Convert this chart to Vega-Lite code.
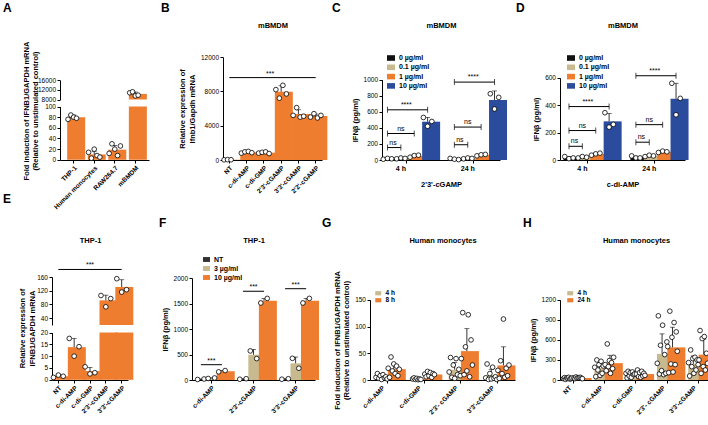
{
"$schema":"https://vega.github.io/schema/vega-lite/v6.json",
"background":"white",
"padding":{"left":3,"top":2,"right":0,"bottom":0},
"config":{
 "font":"Liberation Sans",
 "numberFormat":"d",
 "view":{"stroke":null},
 "axis":{"grid":false,"labelOverlap":false,"domainColor":"#000","domainWidth":1,"tickColor":"#000","tickWidth":1,"tickSize":3,"labelColor":"#000","labelFontSize":6.5,"labelPadding":1.5,"labelFont":"Liberation Sans","titleFont":"Liberation Sans","titleColor":"#000","titleFontSize":7.5,"titleFontWeight":"bold","titlePadding":4},
 "axisQuantitative":{"labelOverlap":false,"labelFlush":false},
 "legend":{"labelFont":"Liberation Sans","labelFontSize":7,"labelFontWeight":"bold","labelColor":"#000","symbolType":"M-1,-0.7H1V0.7H-1Z","symbolStrokeWidth":0,"symbolSize":64,"rowPadding":2.3,"labelOffset":4,"padding":0},
 "title":{"font":"Liberation Sans","fontSize":12,"fontWeight":"bold","anchor":"start","frame":"group","color":"#000","offset":6}
},
"datasets":{
"A_bar":[{"cat":"THP-1","v":80,"hi":84},{"cat":"Human monocytes","v":10,"hi":16},{"cat":"RAW264.7","v":19,"hi":27},{"cat":"mBMDM","v":10300,"hi":11100}],
"A_pts":[{"cat":"THP-1","rep":1,"v":76},{"cat":"THP-1","rep":2,"v":84},{"cat":"THP-1","rep":3,"v":80},{"cat":"THP-1","rep":4,"v":78},
{"cat":"Human monocytes","rep":1,"v":14},{"cat":"Human monocytes","rep":2,"v":3},{"cat":"Human monocytes","rep":3,"v":20},{"cat":"Human monocytes","rep":4,"v":8},{"cat":"Human monocytes","rep":5,"v":5},
{"cat":"RAW264.7","rep":1,"v":12},{"cat":"RAW264.7","rep":2,"v":30},{"cat":"RAW264.7","rep":3,"v":20},{"cat":"RAW264.7","rep":4,"v":8},{"cat":"RAW264.7","rep":5,"v":26},
{"cat":"mBMDM","rep":1,"v":10800},{"cat":"mBMDM","rep":2,"v":11200},{"cat":"mBMDM","rep":3,"v":9500},{"cat":"mBMDM","rep":4,"v":9800}],
"B_bar":[{"cat":"NT","v":30,"hi":45},{"cat":"c-di-AMP","v":900,"hi":1000},{"cat":"c-di-GMP","v":850,"hi":950},{"cat":"2'3'-cGAMP","v":7950,"hi":8650},{"cat":"3'3'-cGAMP","v":5350,"hi":5850},{"cat":"2'2'-cGAMP","v":5125,"hi":5350}],
"B_pts":[{"cat":"NT","rep":1,"v":20},{"cat":"NT","rep":2,"v":40},{"cat":"NT","rep":3,"v":30},
{"cat":"c-di-AMP","rep":1,"v":800},{"cat":"c-di-AMP","rep":2,"v":950},{"cat":"c-di-AMP","rep":3,"v":1000},{"cat":"c-di-AMP","rep":4,"v":850},
{"cat":"c-di-GMP","rep":1,"v":800},{"cat":"c-di-GMP","rep":2,"v":900},{"cat":"c-di-GMP","rep":3,"v":950},{"cat":"c-di-GMP","rep":4,"v":750},
{"cat":"2'3'-cGAMP","rep":1,"v":8200},{"cat":"2'3'-cGAMP","rep":2,"v":7200},{"cat":"2'3'-cGAMP","rep":3,"v":8700},{"cat":"2'3'-cGAMP","rep":4,"v":7700},
{"cat":"3'3'-cGAMP","rep":1,"v":5200},{"cat":"3'3'-cGAMP","rep":2,"v":6100},{"cat":"3'3'-cGAMP","rep":3,"v":5000},{"cat":"3'3'-cGAMP","rep":4,"v":5100},
{"cat":"2'2'-cGAMP","rep":1,"v":5000},{"cat":"2'2'-cGAMP","rep":2,"v":5400},{"cat":"2'2'-cGAMP","rep":3,"v":4900},{"cat":"2'2'-cGAMP","rep":4,"v":5200}],
"B_br":[{"from":"NT","to":"2'2'-cGAMP","y":9600,"at":"c-di-GMP","lab":"***"}],
"C_bar":[{"key":"4 h|0","dose":"0 µg/ml","v":15,"hi":20},{"key":"4 h|0.1","dose":"0.1 µg/ml","v":20,"hi":25},{"key":"4 h|1","dose":"1 µg/ml","v":50,"hi":65},{"key":"4 h|10","dose":"10 µg/ml","v":477,"hi":530},
{"key":"24 h|0","dose":"0 µg/ml","v":12,"hi":20},{"key":"24 h|0.1","dose":"0.1 µg/ml","v":20,"hi":25},{"key":"24 h|1","dose":"1 µg/ml","v":62,"hi":72},{"key":"24 h|10","dose":"10 µg/ml","v":747,"hi":860}],
"C_pts":[{"key":"4 h|0","rep":1,"v":10},{"key":"4 h|0","rep":2,"v":20},{"key":"4 h|0","rep":3,"v":15},
{"key":"4 h|0.1","rep":1,"v":15},{"key":"4 h|0.1","rep":2,"v":25},{"key":"4 h|0.1","rep":3,"v":20},
{"key":"4 h|1","rep":1,"v":35},{"key":"4 h|1","rep":2,"v":55},{"key":"4 h|1","rep":3,"v":60},
{"key":"4 h|10","rep":1,"v":530},{"key":"4 h|10","rep":2,"v":420},{"key":"4 h|10","rep":3,"v":480},
{"key":"24 h|0","rep":1,"v":20},{"key":"24 h|0","rep":2,"v":10},{"key":"24 h|0","rep":3,"v":5},
{"key":"24 h|0.1","rep":1,"v":15},{"key":"24 h|0.1","rep":2,"v":25},{"key":"24 h|0.1","rep":3,"v":20},
{"key":"24 h|1","rep":1,"v":52},{"key":"24 h|1","rep":2,"v":65},{"key":"24 h|1","rep":3,"v":70},
{"key":"24 h|10","rep":1,"v":825},{"key":"24 h|10","rep":2,"v":635},{"key":"24 h|10","rep":3,"v":780}],
"C_br":[{"from":"4 h|0","to":"4 h|0.1","y":155},{"from":"4 h|0","to":"4 h|1","y":330},{"from":"4 h|0","to":"4 h|10","y":625},{"from":"24 h|0","to":"24 h|0.1","y":190},{"from":"24 h|0","to":"24 h|1","y":410},{"from":"24 h|0","to":"24 h|10","y":970}],
"C_lc":[{"at":"4 h|0.1","y":330,"lab":"ns"},{"at":"24 h|0.1","y":410,"lab":"ns"}],
"C_le":[{"at":"4 h|0","y":155,"lab":"ns"},{"at":"4 h|0.1","y":625,"lab":"****"},{"at":"24 h|0","y":190,"lab":"ns"},{"at":"24 h|0.1","y":970,"lab":"****"}],
"D_bar":[{"key":"4 h|0","dose":"0 µg/ml","v":17,"hi":25},{"key":"4 h|0.1","dose":"0.1 µg/ml","v":20,"hi":25},{"key":"4 h|1","dose":"1 µg/ml","v":43,"hi":50},{"key":"4 h|10","dose":"10 µg/ml","v":282,"hi":340},
{"key":"24 h|0","dose":"0 µg/ml","v":20,"hi":28},{"key":"24 h|0.1","dose":"0.1 µg/ml","v":30,"hi":35},{"key":"24 h|1","dose":"1 µg/ml","v":60,"hi":65},{"key":"24 h|10","dose":"10 µg/ml","v":447,"hi":560}],
"D_pts":[{"key":"4 h|0","rep":1,"v":25},{"key":"4 h|0","rep":2,"v":10},{"key":"4 h|0","rep":3,"v":15},
{"key":"4 h|0.1","rep":1,"v":15},{"key":"4 h|0.1","rep":2,"v":25},{"key":"4 h|0.1","rep":3,"v":20},
{"key":"4 h|1","rep":1,"v":35},{"key":"4 h|1","rep":2,"v":45},{"key":"4 h|1","rep":3,"v":50},
{"key":"4 h|10","rep":1,"v":345},{"key":"4 h|10","rep":2,"v":240},{"key":"4 h|10","rep":3,"v":260},
{"key":"24 h|0","rep":1,"v":30},{"key":"24 h|0","rep":2,"v":15},{"key":"24 h|0","rep":3,"v":15},
{"key":"24 h|0.1","rep":1,"v":25},{"key":"24 h|0.1","rep":2,"v":35},{"key":"24 h|0.1","rep":3,"v":30},
{"key":"24 h|1","rep":1,"v":55},{"key":"24 h|1","rep":2,"v":65},{"key":"24 h|1","rep":3,"v":60},
{"key":"24 h|10","rep":1,"v":560},{"key":"24 h|10","rep":2,"v":330},{"key":"24 h|10","rep":3,"v":450}],
"D_br":[{"from":"4 h|0","to":"4 h|0.1","y":100},{"from":"4 h|0","to":"4 h|1","y":215},{"from":"4 h|0","to":"4 h|10","y":390},{"from":"24 h|0","to":"24 h|0.1","y":130},{"from":"24 h|0","to":"24 h|1","y":258},{"from":"24 h|0","to":"24 h|10","y":615}],
"D_lc":[{"at":"4 h|0.1","y":215,"lab":"ns"},{"at":"24 h|0.1","y":258,"lab":"ns"}],
"D_le":[{"at":"4 h|0","y":100,"lab":"ns"},{"at":"4 h|0.1","y":390,"lab":"****"},{"at":"24 h|0","y":130,"lab":"ns"},{"at":"24 h|0.1","y":615,"lab":"****"}],
"E_bar":[{"cat":"NT","v":1.5,"hi":2},{"cat":"c-di-AMP","v":13.8,"hi":17.5},{"cat":"c-di-GMP","v":3.7,"hi":5.2},{"cat":"2'3'-cGAMP","v":92,"hi":107},{"cat":"3'3'-cGAMP","v":131,"hi":152}],
"E_pts":[{"cat":"NT","rep":1,"v":1},{"cat":"NT","rep":2,"v":2},{"cat":"NT","rep":3,"v":1.5},
{"cat":"c-di-AMP","rep":1,"v":17.5},{"cat":"c-di-AMP","rep":2,"v":10},{"cat":"c-di-AMP","rep":3,"v":14},
{"cat":"c-di-GMP","rep":1,"v":5.5},{"cat":"c-di-GMP","rep":2,"v":2.5},{"cat":"c-di-GMP","rep":3,"v":3},
{"cat":"2'3'-cGAMP","rep":1,"v":106},{"cat":"2'3'-cGAMP","rep":2,"v":73},{"cat":"2'3'-cGAMP","rep":3,"v":97},
{"cat":"3'3'-cGAMP","rep":1,"v":155},{"cat":"3'3'-cGAMP","rep":2,"v":116},{"cat":"3'3'-cGAMP","rep":3,"v":123}],
"E_br":[{"from":"NT","to":"3'3'-cGAMP","y":182,"at":"c-di-GMP","lab":"***"}],
"F_bar":[{"key":"c-di-AMP|NT","ser":"NT","v":15,"hi":20},{"key":"c-di-AMP|3","ser":"3 µg/ml","v":35,"hi":42},{"key":"c-di-AMP|10","ser":"10 µg/ml","v":172,"hi":185},
{"key":"2'3'-cGAMP|NT","ser":"NT","v":20,"hi":25},{"key":"2'3'-cGAMP|3","ser":"3 µg/ml","v":495,"hi":600},{"key":"2'3'-cGAMP|10","ser":"10 µg/ml","v":1555,"hi":1600},
{"key":"3'3'-cGAMP|NT","ser":"NT","v":20,"hi":25},{"key":"3'3'-cGAMP|3","ser":"3 µg/ml","v":327,"hi":450},{"key":"3'3'-cGAMP|10","ser":"10 µg/ml","v":1555,"hi":1600}],
"F_pts":[{"key":"c-di-AMP|NT","rep":1,"v":10},{"key":"c-di-AMP|NT","rep":2,"v":20},{"key":"c-di-AMP|3","rep":1,"v":30},{"key":"c-di-AMP|3","rep":2,"v":40},{"key":"c-di-AMP|10","rep":1,"v":160},{"key":"c-di-AMP|10","rep":2,"v":185},
{"key":"2'3'-cGAMP|NT","rep":1,"v":15},{"key":"2'3'-cGAMP|NT","rep":2,"v":25},{"key":"2'3'-cGAMP|3","rep":1,"v":570},{"key":"2'3'-cGAMP|3","rep":2,"v":420},{"key":"2'3'-cGAMP|10","rep":1,"v":1510},{"key":"2'3'-cGAMP|10","rep":2,"v":1600},
{"key":"3'3'-cGAMP|NT","rep":1,"v":15},{"key":"3'3'-cGAMP|NT","rep":2,"v":25},{"key":"3'3'-cGAMP|3","rep":1,"v":425},{"key":"3'3'-cGAMP|3","rep":2,"v":230},{"key":"3'3'-cGAMP|10","rep":1,"v":1510},{"key":"3'3'-cGAMP|10","rep":2,"v":1600}],
"F_br":[{"from":"c-di-AMP|NT","to":"c-di-AMP|10","y":300,"at":"c-di-AMP|3","lab":"***"},{"from":"2'3'-cGAMP|NT","to":"2'3'-cGAMP|10","y":1740,"at":"2'3'-cGAMP|3","lab":"***"},{"from":"3'3'-cGAMP|NT","to":"3'3'-cGAMP|10","y":1790,"at":"3'3'-cGAMP|3","lab":"***"}],
"G_bar":[{"key":"c-di-AMP|4 h","ser":"4 h","v":5.7,"hi":9},{"key":"c-di-AMP|8 h","ser":"8 h","v":20.3,"hi":30},{"key":"c-di-GMP|4 h","ser":"4 h","v":1.8,"hi":3},{"key":"c-di-GMP|8 h","ser":"8 h","v":10.3,"hi":13},
{"key":"2'3'- cGAMP|4 h","ser":"4 h","v":19,"hi":33},{"key":"2'3'- cGAMP|8 h","ser":"8 h","v":54,"hi":96},{"key":"3'3'-cGAMP|4 h","ser":"4 h","v":9.2,"hi":20},{"key":"3'3'-cGAMP|8 h","ser":"8 h","v":27.3,"hi":62}],
"G_pts":[
{"key":"c-di-AMP|4 h","rep":1,"v":5},{"key":"c-di-AMP|4 h","rep":2,"v":12},{"key":"c-di-AMP|4 h","rep":3,"v":3},{"key":"c-di-AMP|4 h","rep":4,"v":8},{"key":"c-di-AMP|4 h","rep":5,"v":1},{"key":"c-di-AMP|4 h","rep":6,"v":10},{"key":"c-di-AMP|4 h","rep":7,"v":4},{"key":"c-di-AMP|4 h","rep":8,"v":6},{"key":"c-di-AMP|4 h","rep":9,"v":2},
{"key":"c-di-AMP|8 h","rep":1,"v":22},{"key":"c-di-AMP|8 h","rep":2,"v":5},{"key":"c-di-AMP|8 h","rep":3,"v":43},{"key":"c-di-AMP|8 h","rep":4,"v":17},{"key":"c-di-AMP|8 h","rep":5,"v":30},{"key":"c-di-AMP|8 h","rep":6,"v":12},{"key":"c-di-AMP|8 h","rep":7,"v":26},{"key":"c-di-AMP|8 h","rep":8,"v":8},{"key":"c-di-AMP|8 h","rep":9,"v":20},
{"key":"c-di-GMP|4 h","rep":1,"v":2},{"key":"c-di-GMP|4 h","rep":2,"v":4},{"key":"c-di-GMP|4 h","rep":3,"v":1},{"key":"c-di-GMP|4 h","rep":4,"v":3},{"key":"c-di-GMP|4 h","rep":5,"v":0.5},{"key":"c-di-GMP|4 h","rep":6,"v":2},{"key":"c-di-GMP|4 h","rep":7,"v":1},
{"key":"c-di-GMP|8 h","rep":1,"v":11},{"key":"c-di-GMP|8 h","rep":2,"v":6},{"key":"c-di-GMP|8 h","rep":3,"v":16},{"key":"c-di-GMP|8 h","rep":4,"v":8},{"key":"c-di-GMP|8 h","rep":5,"v":14},{"key":"c-di-GMP|8 h","rep":6,"v":5},{"key":"c-di-GMP|8 h","rep":7,"v":12},{"key":"c-di-GMP|8 h","rep":8,"v":10},
{"key":"2'3'- cGAMP|4 h","rep":1,"v":15},{"key":"2'3'- cGAMP|4 h","rep":2,"v":42},{"key":"2'3'- cGAMP|4 h","rep":3,"v":5},{"key":"2'3'- cGAMP|4 h","rep":4,"v":28},{"key":"2'3'- cGAMP|4 h","rep":5,"v":3},{"key":"2'3'- cGAMP|4 h","rep":6,"v":40},{"key":"2'3'- cGAMP|4 h","rep":7,"v":10},{"key":"2'3'- cGAMP|4 h","rep":8,"v":20},{"key":"2'3'- cGAMP|4 h","rep":9,"v":8},
{"key":"2'3'- cGAMP|8 h","rep":1,"v":40},{"key":"2'3'- cGAMP|8 h","rep":2,"v":126},{"key":"2'3'- cGAMP|8 h","rep":3,"v":10},{"key":"2'3'- cGAMP|8 h","rep":4,"v":62},{"key":"2'3'- cGAMP|8 h","rep":5,"v":17},{"key":"2'3'- cGAMP|8 h","rep":6,"v":122},{"key":"2'3'- cGAMP|8 h","rep":7,"v":6},{"key":"2'3'- cGAMP|8 h","rep":8,"v":75},{"key":"2'3'- cGAMP|8 h","rep":9,"v":28},
{"key":"3'3'-cGAMP|4 h","rep":1,"v":4},{"key":"3'3'-cGAMP|4 h","rep":2,"v":30},{"key":"3'3'-cGAMP|4 h","rep":3,"v":1},{"key":"3'3'-cGAMP|4 h","rep":4,"v":12},{"key":"3'3'-cGAMP|4 h","rep":5,"v":2},{"key":"3'3'-cGAMP|4 h","rep":6,"v":24},{"key":"3'3'-cGAMP|4 h","rep":7,"v":3},{"key":"3'3'-cGAMP|4 h","rep":8,"v":6},{"key":"3'3'-cGAMP|4 h","rep":9,"v":1},
{"key":"3'3'-cGAMP|8 h","rep":1,"v":18},{"key":"3'3'-cGAMP|8 h","rep":2,"v":3},{"key":"3'3'-cGAMP|8 h","rep":3,"v":36},{"key":"3'3'-cGAMP|8 h","rep":4,"v":12},{"key":"3'3'-cGAMP|8 h","rep":5,"v":114},{"key":"3'3'-cGAMP|8 h","rep":6,"v":5},{"key":"3'3'-cGAMP|8 h","rep":7,"v":22},{"key":"3'3'-cGAMP|8 h","rep":8,"v":8},{"key":"3'3'-cGAMP|8 h","rep":9,"v":28}],
"H_bar":[{"key":"NT|4 h","ser":"4 h","v":25,"hi":33},{"key":"NT|24 h","ser":"24 h","v":30,"hi":38},{"key":"c-di-AMP|4 h","ser":"4 h","v":176,"hi":260},{"key":"c-di-AMP|24 h","ser":"24 h","v":252,"hi":370},
{"key":"c-di-GMP|4 h","ser":"4 h","v":84,"hi":115},{"key":"c-di-GMP|24 h","ser":"24 h","v":89,"hi":125},{"key":"2'3'- cGAMP|4 h","ser":"4 h","v":391,"hi":690},{"key":"2'3'- cGAMP|24 h","ser":"24 h","v":488,"hi":790},
{"key":"3'3'-cGAMP|4 h","ser":"4 h","v":241,"hi":360},{"key":"3'3'-cGAMP|24 h","ser":"24 h","v":379,"hi":610}],
"H_pts":[
{"key":"NT|4 h","rep":1,"v":20},{"key":"NT|4 h","rep":2,"v":35},{"key":"NT|4 h","rep":3,"v":10},{"key":"NT|4 h","rep":4,"v":30},{"key":"NT|4 h","rep":5,"v":25},{"key":"NT|4 h","rep":6,"v":40},{"key":"NT|4 h","rep":7,"v":15},{"key":"NT|4 h","rep":8,"v":20},{"key":"NT|4 h","rep":9,"v":30},
{"key":"NT|24 h","rep":1,"v":30},{"key":"NT|24 h","rep":2,"v":20},{"key":"NT|24 h","rep":3,"v":45},{"key":"NT|24 h","rep":4,"v":25},{"key":"NT|24 h","rep":5,"v":35},{"key":"NT|24 h","rep":6,"v":30},{"key":"NT|24 h","rep":7,"v":40},{"key":"NT|24 h","rep":8,"v":25},{"key":"NT|24 h","rep":9,"v":20},
{"key":"c-di-AMP|4 h","rep":1,"v":190},{"key":"c-di-AMP|4 h","rep":2,"v":50},{"key":"c-di-AMP|4 h","rep":3,"v":300},{"key":"c-di-AMP|4 h","rep":4,"v":150},{"key":"c-di-AMP|4 h","rep":5,"v":230},{"key":"c-di-AMP|4 h","rep":6,"v":70},{"key":"c-di-AMP|4 h","rep":7,"v":280},{"key":"c-di-AMP|4 h","rep":8,"v":100},{"key":"c-di-AMP|4 h","rep":9,"v":210},
{"key":"c-di-AMP|24 h","rep":1,"v":230},{"key":"c-di-AMP|24 h","rep":2,"v":140},{"key":"c-di-AMP|24 h","rep":3,"v":540},{"key":"c-di-AMP|24 h","rep":4,"v":200},{"key":"c-di-AMP|24 h","rep":5,"v":290},{"key":"c-di-AMP|24 h","rep":6,"v":100},{"key":"c-di-AMP|24 h","rep":7,"v":260},{"key":"c-di-AMP|24 h","rep":8,"v":170},{"key":"c-di-AMP|24 h","rep":9,"v":340},
{"key":"c-di-GMP|4 h","rep":1,"v":100},{"key":"c-di-GMP|4 h","rep":2,"v":30},{"key":"c-di-GMP|4 h","rep":3,"v":130},{"key":"c-di-GMP|4 h","rep":4,"v":60},{"key":"c-di-GMP|4 h","rep":5,"v":110},{"key":"c-di-GMP|4 h","rep":6,"v":40},{"key":"c-di-GMP|4 h","rep":7,"v":120},{"key":"c-di-GMP|4 h","rep":8,"v":80},{"key":"c-di-GMP|4 h","rep":9,"v":90},
{"key":"c-di-GMP|24 h","rep":1,"v":90},{"key":"c-di-GMP|24 h","rep":2,"v":150},{"key":"c-di-GMP|24 h","rep":3,"v":50},{"key":"c-di-GMP|24 h","rep":4,"v":110},{"key":"c-di-GMP|24 h","rep":5,"v":40},{"key":"c-di-GMP|24 h","rep":6,"v":130},{"key":"c-di-GMP|24 h","rep":7,"v":60},{"key":"c-di-GMP|24 h","rep":8,"v":100},{"key":"c-di-GMP|24 h","rep":9,"v":70},
{"key":"2'3'- cGAMP|4 h","rep":1,"v":250},{"key":"2'3'- cGAMP|4 h","rep":2,"v":960},{"key":"2'3'- cGAMP|4 h","rep":3,"v":90},{"key":"2'3'- cGAMP|4 h","rep":4,"v":520},{"key":"2'3'- cGAMP|4 h","rep":5,"v":140},{"key":"2'3'- cGAMP|4 h","rep":6,"v":820},{"key":"2'3'- cGAMP|4 h","rep":7,"v":80},{"key":"2'3'- cGAMP|4 h","rep":8,"v":380},{"key":"2'3'- cGAMP|4 h","rep":9,"v":100},{"key":"2'3'- cGAMP|4 h","rep":10,"v":570},
{"key":"2'3'- cGAMP|24 h","rep":1,"v":500},{"key":"2'3'- cGAMP|24 h","rep":2,"v":110},{"key":"2'3'- cGAMP|24 h","rep":3,"v":1030},{"key":"2'3'- cGAMP|24 h","rep":4,"v":240},{"key":"2'3'- cGAMP|24 h","rep":5,"v":640},{"key":"2'3'- cGAMP|24 h","rep":6,"v":120},{"key":"2'3'- cGAMP|24 h","rep":7,"v":860},{"key":"2'3'- cGAMP|24 h","rep":8,"v":230},{"key":"2'3'- cGAMP|24 h","rep":9,"v":720},{"key":"2'3'- cGAMP|24 h","rep":10,"v":430},
{"key":"3'3'-cGAMP|4 h","rep":1,"v":260},{"key":"3'3'-cGAMP|4 h","rep":2,"v":60},{"key":"3'3'-cGAMP|4 h","rep":3,"v":450},{"key":"3'3'-cGAMP|4 h","rep":4,"v":200},{"key":"3'3'-cGAMP|4 h","rep":5,"v":320},{"key":"3'3'-cGAMP|4 h","rep":6,"v":100},{"key":"3'3'-cGAMP|4 h","rep":7,"v":340},{"key":"3'3'-cGAMP|4 h","rep":8,"v":150},{"key":"3'3'-cGAMP|4 h","rep":9,"v":300},{"key":"3'3'-cGAMP|4 h","rep":10,"v":230},
{"key":"3'3'-cGAMP|24 h","rep":1,"v":300},{"key":"3'3'-cGAMP|24 h","rep":2,"v":740},{"key":"3'3'-cGAMP|24 h","rep":3,"v":100},{"key":"3'3'-cGAMP|24 h","rep":4,"v":620},{"key":"3'3'-cGAMP|24 h","rep":5,"v":200},{"key":"3'3'-cGAMP|24 h","rep":6,"v":650},{"key":"3'3'-cGAMP|24 h","rep":7,"v":150},{"key":"3'3'-cGAMP|24 h","rep":8,"v":400},{"key":"3'3'-cGAMP|24 h","rep":9,"v":250}]
},
"resolve":{"scale":{"color":"independent","xOffset":"independent"},"legend":{"color":"independent"}},
"bounds":"flush",
"spacing":220,
"vconcat":[
{"hconcat":[
 {"width":103,"height":103,"title":{"text":"A","dx":-57},
  "resolve":{"scale":{"y":"independent"},"axis":{"x":"independent","y":"independent"}},
  "layer":[
   {"layer":[
    {"data":{"name":"A_bar"},"transform":[{"filter":"datum.v > 8000"}],"mark":{"type":"bar","color":"#EE7D2F"},"encoding":{"x":{"field":"cat","type":"nominal","scale":{"domain":["THP-1","Human monocytes","RAW264.7","mBMDM"],"range":[0,89],"paddingInner":0.37,"paddingOuter":0.35},"axis":null},"y":{"field":"v","type":"quantitative","scale":{"domain":[8000,16000],"range":[42.5,23.2],"nice":false,"zero":false},"axis":{"orient":"left","values":[8000,12000,16000],"tickCount":20,"title":null,"labelOverlap":false}},"y2":{"datum":8000}}},
    {"data":{"name":"A_bar"},"transform":[{"filter":"datum.hi > 8000"}],"mark":{"type":"rule","color":"#000","strokeWidth":0.8},"encoding":{"x":{"field":"cat","type":"nominal","axis":null},"y":{"field":"v","type":"quantitative"},"y2":{"field":"hi"}}},
    {"data":{"name":"A_bar"},"transform":[{"filter":"datum.hi > 8000"}],"mark":{"type":"tick","color":"#000","thickness":0.8,"size":5},"encoding":{"x":{"field":"cat","type":"nominal","axis":null},"y":{"field":"hi","type":"quantitative"}}},
    {"data":{"name":"A_pts"},"transform":[{"filter":"datum.v > 8000"}],"mark":{"type":"circle","fill":"#fff","stroke":"#000","strokeWidth":0.8,"size":22,"opacity":1},"encoding":{"x":{"field":"cat","type":"nominal","axis":null},"xOffset":{"field":"rep","type":"nominal","scale":{"paddingOuter":0.3}},"y":{"field":"v","type":"quantitative"}}}
   ]},
   {"layer":[
    {"data":{"name":"A_bar"},"mark":{"type":"bar","color":"#EE7D2F"},"encoding":{"x":{"field":"cat","type":"nominal","scale":{"domain":["THP-1","Human monocytes","RAW264.7","mBMDM"],"range":[0,89],"paddingInner":0.37,"paddingOuter":0.35},"axis":{"orient":"bottom","labelAngle":-45,"labelFontWeight":"bold","title":null}},"y":{"field":"v","type":"quantitative","scale":{"domain":[0,100],"range":[102.8,49.5],"nice":false,"clamp":true},"axis":{"orient":"left","values":[0,20,40,60,80,100],"tickCount":20,"labelOverlap":false,"title":["Fold induction of IFNB1/GAPDH mRNA","(Relative to unstimulated control)"],"titleY":53.5,"titlePadding":5}}}},
    {"data":{"name":"A_bar"},"transform":[{"filter":"datum.hi <= 100"}],"mark":{"type":"rule","color":"#000","strokeWidth":0.8},"encoding":{"x":{"field":"cat","type":"nominal","axis":null},"y":{"field":"v","type":"quantitative"},"y2":{"field":"hi"}}},
    {"data":{"name":"A_bar"},"transform":[{"filter":"datum.hi <= 100"}],"mark":{"type":"tick","color":"#000","thickness":0.8,"size":5},"encoding":{"x":{"field":"cat","type":"nominal","axis":null},"y":{"field":"hi","type":"quantitative"}}},
    {"data":{"name":"A_pts"},"transform":[{"filter":"datum.v <= 100"}],"mark":{"type":"circle","fill":"#fff","stroke":"#000","strokeWidth":0.8,"size":22,"opacity":1},"encoding":{"x":{"field":"cat","type":"nominal","axis":{"orient":"top","title":" ","labels":false,"ticks":false,"domain":false,"titlePadding":28}},"xOffset":{"field":"rep","type":"nominal","scale":{"paddingOuter":0.3}},"y":{"field":"v","type":"quantitative"}}}
   ]}
  ]},
 {"width":99,"height":103,"title":{"text":"B","dx":-62},"resolve":{"axis":{"x":"independent"}},"layer":[
  {"data":{"name":"B_bar"},"mark":{"type":"bar","color":"#EE7D2F"},"encoding":{"x":{"field":"cat","type":"nominal","scale":{"domain":["NT","c-di-AMP","c-di-GMP","2'3'-cGAMP","3'3'-cGAMP","2'2'-cGAMP"],"range":[0,99],"paddingInner":0.27,"paddingOuter":0},"axis":{"labelAngle":-45,"labelFontWeight":"bold","title":null}},"y":{"field":"v","type":"quantitative","scale":{"domain":[0,12000],"range":[103,0],"nice":false},"axis":{"values":[0,4000,8000,12000],"tickCount":20,"labelOverlap":false,"title":["Relative expression of","Ifnb1/Gapdh mRNA"]}}}},
  {"data":{"name":"B_bar"},"mark":{"type":"rule","color":"#000","strokeWidth":0.8},"encoding":{"x":{"field":"cat","type":"nominal","axis":null},"y":{"field":"v","type":"quantitative"},"y2":{"field":"hi"}}},
  {"data":{"name":"B_bar"},"mark":{"type":"tick","color":"#000","thickness":0.8,"size":5},"encoding":{"x":{"field":"cat","type":"nominal","axis":null},"y":{"field":"hi","type":"quantitative"}}},
  {"data":{"name":"B_pts"},"mark":{"type":"circle","fill":"#fff","stroke":"#000","strokeWidth":0.8,"size":22,"opacity":1},"encoding":{"x":{"field":"cat","type":"nominal","axis":{"orient":"top","title":"mBMDM","labels":false,"ticks":false,"domain":false,"titlePadding":28}},"xOffset":{"field":"rep","type":"nominal","scale":{"paddingOuter":0.3}},"y":{"field":"v","type":"quantitative"}}},
  {"data":{"name":"B_br"},"mark":{"type":"rule","color":"#000","strokeWidth":1},"encoding":{"x":{"field":"from","type":"nominal","axis":null},"x2":{"field":"to"},"y":{"field":"y","type":"quantitative"}}},
  {"data":{"name":"B_br"},"mark":{"type":"text","fontSize":7,"dy":-2,"baseline":"alphabetic"},"encoding":{"x":{"field":"at","type":"nominal","bandPosition":1,"axis":null},"y":{"field":"y","type":"quantitative"},"text":{"field":"lab"}}}
 ]},
 {"width":118,"height":103,"title":{"text":"C","dx":-50},"resolve":{"axis":{"x":"independent"}},"layer":[
  {"data":{"name":"C_bar"},"mark":{"type":"bar"},"encoding":{"x":{"field":"key","type":"nominal","scale":{"domain":["4 h|0","4 h|0.1","4 h|1","4 h|10","gap","24 h|0","24 h|0.1","24 h|1","24 h|10"],"range":[0,118],"paddingInner":0.18,"paddingOuter":0},"axis":{"values":["4 h|0.1","24 h|0.1"],"bandPosition":1,"labelExpr":"split(datum.value,'|')[0]","labelAngle":0,"labelFontWeight":"bold","labelFontSize":7,"title":"2'3'-cGAMP","titlePadding":9}},"y":{"field":"v","type":"quantitative","scale":{"domain":[0,1000],"range":[103,22.7],"nice":false},"axis":{"values":[0,200,400,600,800,1000],"tickCount":20,"labelOverlap":false,"title":"IFNβ (pg/ml)"}},"color":{"field":"dose","type":"nominal","scale":{"domain":["0 µg/ml","0.1 µg/ml","1 µg/ml","10 µg/ml"],"range":["#111111","#C8B98F","#EE7D2F","#2B4C9C"]},"legend":{"orient":"none","legendX":5,"legendY":-3,"title":null}}}},
  {"data":{"name":"C_bar"},"mark":{"type":"rule","color":"#000","strokeWidth":0.8},"encoding":{"x":{"field":"key","type":"nominal","axis":null},"y":{"field":"v","type":"quantitative"},"y2":{"field":"hi"}}},
  {"data":{"name":"C_bar"},"mark":{"type":"tick","color":"#000","thickness":0.8,"size":5},"encoding":{"x":{"field":"key","type":"nominal","axis":null},"y":{"field":"hi","type":"quantitative"}}},
  {"data":{"name":"C_pts"},"mark":{"type":"circle","fill":"#fff","stroke":"#000","strokeWidth":0.8,"size":22,"opacity":1},"encoding":{"x":{"field":"key","type":"nominal","axis":{"orient":"top","title":"mBMDM","labels":false,"ticks":false,"domain":false,"titlePadding":28}},"xOffset":{"field":"rep","type":"nominal","scale":{"paddingOuter":0.3}},"y":{"field":"v","type":"quantitative"}}},
  {"data":{"name":"C_br"},"mark":{"type":"rule","color":"#000","strokeWidth":1},"encoding":{"x":{"field":"from","type":"nominal","axis":null},"x2":{"field":"to"},"y":{"field":"y","type":"quantitative"}}},
  {"data":{"name":"C_br"},"mark":{"type":"tick","orient":"vertical","color":"#000","thickness":1,"size":6},"encoding":{"x":{"field":"from","type":"nominal","axis":null},"y":{"field":"y","type":"quantitative"}}},
  {"data":{"name":"C_br"},"mark":{"type":"tick","orient":"vertical","color":"#000","thickness":1,"size":6},"encoding":{"x":{"field":"to","type":"nominal","axis":null},"y":{"field":"y","type":"quantitative"}}},
  {"data":{"name":"C_lc"},"mark":{"type":"text","fontSize":7,"dy":-3,"baseline":"alphabetic"},"encoding":{"x":{"field":"at","type":"nominal","axis":null},"y":{"field":"y","type":"quantitative"},"text":{"field":"lab"}}},
  {"data":{"name":"C_le"},"mark":{"type":"text","fontSize":7,"dy":-3,"baseline":"alphabetic"},"encoding":{"x":{"field":"at","type":"nominal","bandPosition":1,"axis":null},"y":{"field":"y","type":"quantitative"},"text":{"field":"lab"}}}
 ]},
 {"width":125,"height":103,"title":{"text":"D","dx":-44},"resolve":{"axis":{"x":"independent"}},"layer":[
  {"data":{"name":"D_bar"},"mark":{"type":"bar"},"encoding":{"x":{"field":"key","type":"nominal","scale":{"domain":["4 h|0","4 h|0.1","4 h|1","4 h|10","gap","24 h|0","24 h|0.1","24 h|1","24 h|10"],"range":[0,125],"paddingInner":0.18,"paddingOuter":0.26},"axis":{"values":["4 h|0.1","24 h|0.1"],"bandPosition":1,"labelExpr":"split(datum.value,'|')[0]","labelAngle":0,"labelFontWeight":"bold","labelFontSize":7,"title":"c-di-AMP","titlePadding":9}},"y":{"field":"v","type":"quantitative","scale":{"domain":[0,600],"range":[103,20.8],"nice":false},"axis":{"values":[0,200,400,600],"tickCount":20,"labelOverlap":false,"title":"IFNβ (pg/ml)"}},"color":{"field":"dose","type":"nominal","scale":{"domain":["0 µg/ml","0.1 µg/ml","1 µg/ml","10 µg/ml"],"range":["#111111","#C8B98F","#EE7D2F","#2B4C9C"]},"legend":{"orient":"none","legendX":7,"legendY":-3,"title":null}}}},
  {"data":{"name":"D_bar"},"mark":{"type":"rule","color":"#000","strokeWidth":0.8},"encoding":{"x":{"field":"key","type":"nominal","axis":null},"y":{"field":"v","type":"quantitative"},"y2":{"field":"hi"}}},
  {"data":{"name":"D_bar"},"mark":{"type":"tick","color":"#000","thickness":0.8,"size":5},"encoding":{"x":{"field":"key","type":"nominal","axis":null},"y":{"field":"hi","type":"quantitative"}}},
  {"data":{"name":"D_pts"},"mark":{"type":"circle","fill":"#fff","stroke":"#000","strokeWidth":0.8,"size":22,"opacity":1},"encoding":{"x":{"field":"key","type":"nominal","axis":{"orient":"top","title":"mBMDM","labels":false,"ticks":false,"domain":false,"titlePadding":28}},"xOffset":{"field":"rep","type":"nominal","scale":{"paddingOuter":0.3}},"y":{"field":"v","type":"quantitative"}}},
  {"data":{"name":"D_br"},"mark":{"type":"rule","color":"#000","strokeWidth":1},"encoding":{"x":{"field":"from","type":"nominal","axis":null},"x2":{"field":"to"},"y":{"field":"y","type":"quantitative"}}},
  {"data":{"name":"D_br"},"mark":{"type":"tick","orient":"vertical","color":"#000","thickness":1,"size":6},"encoding":{"x":{"field":"from","type":"nominal","axis":null},"y":{"field":"y","type":"quantitative"}}},
  {"data":{"name":"D_br"},"mark":{"type":"tick","orient":"vertical","color":"#000","thickness":1,"size":6},"encoding":{"x":{"field":"to","type":"nominal","axis":null},"y":{"field":"y","type":"quantitative"}}},
  {"data":{"name":"D_lc"},"mark":{"type":"text","fontSize":7,"dy":-3,"baseline":"alphabetic"},"encoding":{"x":{"field":"at","type":"nominal","axis":null},"y":{"field":"y","type":"quantitative"},"text":{"field":"lab"}}},
  {"data":{"name":"D_le"},"mark":{"type":"text","fontSize":7,"dy":-3,"baseline":"alphabetic"},"encoding":{"x":{"field":"at","type":"nominal","bandPosition":1,"axis":null},"y":{"field":"y","type":"quantitative"},"text":{"field":"lab"}}}
 ]}
],"spacing":60,"bounds":"flush","resolve":{"scale":{"color":"independent","xOffset":"independent"},"legend":{"color":"independent"}}},
{"hconcat":[
 {"width":89,"height":103,"title":{"text":"E","dx":-57,"dy":-24},
  "resolve":{"scale":{"y":"independent"},"axis":{"x":"independent","y":"independent"}},
  "layer":[
   {"layer":[
    {"data":{"name":"E_bar"},"transform":[{"filter":"datum.v > 20"}],"mark":{"type":"bar","color":"#EE7D2F"},"encoding":{"x":{"field":"cat","type":"nominal","scale":{"domain":["NT","c-di-AMP","c-di-GMP","2'3'-cGAMP","3'3'-cGAMP"],"range":[-8,68],"paddingInner":0.2,"paddingOuter":0},"axis":null},"y":{"field":"v","type":"quantitative","scale":{"domain":[20,160],"range":[48,0],"nice":false,"zero":false},"axis":{"orient":"left","values":[40,80,120,160],"tickCount":20,"labelOverlap":false,"title":null,"offset":8}},"y2":{"datum":20}}},
    {"data":{"name":"E_bar"},"transform":[{"filter":"datum.hi > 20"}],"mark":{"type":"rule","color":"#000","strokeWidth":0.8},"encoding":{"x":{"field":"cat","type":"nominal","axis":null},"y":{"field":"v","type":"quantitative"},"y2":{"field":"hi"}}},
    {"data":{"name":"E_bar"},"transform":[{"filter":"datum.hi > 20"}],"mark":{"type":"tick","color":"#000","thickness":0.8,"size":5},"encoding":{"x":{"field":"cat","type":"nominal","axis":null},"y":{"field":"hi","type":"quantitative"}}},
    {"data":{"name":"E_pts"},"transform":[{"filter":"datum.v > 20"}],"mark":{"type":"circle","fill":"#fff","stroke":"#000","strokeWidth":0.8,"size":22,"opacity":1},"encoding":{"x":{"field":"cat","type":"nominal","axis":null},"xOffset":{"field":"rep","type":"nominal","scale":{"paddingOuter":0.3}},"y":{"field":"v","type":"quantitative"}}},
    {"data":{"name":"E_br"},"mark":{"type":"rule","color":"#000","strokeWidth":1},"encoding":{"x":{"field":"from","type":"nominal","axis":null},"x2":{"field":"to"},"y":{"field":"y","type":"quantitative"}}},
    {"data":{"name":"E_br"},"mark":{"type":"text","fontSize":7,"dy":-2,"baseline":"alphabetic"},"encoding":{"x":{"field":"at","type":"nominal","axis":null},"y":{"field":"y","type":"quantitative"},"text":{"field":"lab"}}}
   ]},
   {"layer":[
    {"data":{"name":"E_bar"},"mark":{"type":"bar","color":"#EE7D2F"},"encoding":{"x":{"field":"cat","type":"nominal","scale":{"domain":["NT","c-di-AMP","c-di-GMP","2'3'-cGAMP","3'3'-cGAMP"],"range":[-8,68],"paddingInner":0.2,"paddingOuter":0},"axis":{"orient":"bottom","labelAngle":-45,"labelFontWeight":"bold","title":null}},"y":{"field":"v","type":"quantitative","scale":{"domain":[0,20],"range":[102.8,55.5],"nice":false,"clamp":true},"axis":{"orient":"left","values":[0,5,10,15,20],"tickCount":20,"labelOverlap":false,"title":["Relative expression of","IFNB1/GAPDH mRNA"],"offset":8,"titleY":51}}}},
    {"data":{"name":"E_bar"},"transform":[{"filter":"datum.hi <= 20"}],"mark":{"type":"rule","color":"#000","strokeWidth":0.8},"encoding":{"x":{"field":"cat","type":"nominal","axis":null},"y":{"field":"v","type":"quantitative"},"y2":{"field":"hi"}}},
    {"data":{"name":"E_bar"},"transform":[{"filter":"datum.hi <= 20"}],"mark":{"type":"tick","color":"#000","thickness":0.8,"size":5},"encoding":{"x":{"field":"cat","type":"nominal","axis":null},"y":{"field":"hi","type":"quantitative"}}},
    {"data":{"name":"E_pts"},"transform":[{"filter":"datum.v <= 20"}],"mark":{"type":"circle","fill":"#fff","stroke":"#000","strokeWidth":0.8,"size":22,"opacity":1},"encoding":{"x":{"field":"cat","type":"nominal","axis":{"orient":"top","title":"THP-1","labels":false,"ticks":false,"domain":false,"titlePadding":33}},"xOffset":{"field":"rep","type":"nominal","scale":{"paddingOuter":0.3}},"y":{"field":"v","type":"quantitative"}}}
   ]}
  ]},
 {"width":135,"height":103,"title":{"text":"F","dx":-33},"resolve":{"axis":{"x":"independent"}},"layer":[
  {"data":{"name":"F_bar"},"mark":{"type":"bar"},"encoding":{"x":{"field":"key","type":"nominal","scale":{"domain":["c-di-AMP|NT","c-di-AMP|3","c-di-AMP|10","g1","2'3'-cGAMP|NT","2'3'-cGAMP|3","2'3'-cGAMP|10","g2","3'3'-cGAMP|NT","3'3'-cGAMP|3","3'3'-cGAMP|10"],"range":[0,123],"paddingInner":0.02,"paddingOuter":0.35},"axis":{"values":["c-di-AMP|3","2'3'-cGAMP|3","3'3'-cGAMP|3"],"labelExpr":"split(datum.value,'|')[0]","labelAngle":-45,"labelFontWeight":"bold","title":null}},"y":{"field":"v","type":"quantitative","scale":{"domain":[0,2000],"range":[103,1],"nice":false},"axis":{"values":[0,500,1000,1500,2000],"tickCount":20,"labelOverlap":false,"title":"IFNβ (pg/ml)"}},"color":{"field":"ser","type":"nominal","scale":{"domain":["NT","3 µg/ml","10 µg/ml"],"range":["#333333","#C8B98F","#EE7D2F"]},"legend":{"orient":"none","legendX":11,"legendY":-21,"title":null,"symbolSize":49,"rowPadding":1}}}},
  {"data":{"name":"F_bar"},"mark":{"type":"rule","color":"#000","strokeWidth":0.8},"encoding":{"x":{"field":"key","type":"nominal","axis":null},"y":{"field":"v","type":"quantitative"},"y2":{"field":"hi"}}},
  {"data":{"name":"F_bar"},"mark":{"type":"tick","color":"#000","thickness":0.8,"size":5},"encoding":{"x":{"field":"key","type":"nominal","axis":null},"y":{"field":"hi","type":"quantitative"}}},
  {"data":{"name":"F_pts"},"mark":{"type":"circle","fill":"#fff","stroke":"#000","strokeWidth":0.8,"size":22,"opacity":1},"encoding":{"x":{"field":"key","type":"nominal","axis":{"orient":"top","title":"THP-1","labels":false,"ticks":false,"domain":false,"titlePadding":33}},"xOffset":{"field":"rep","type":"nominal","scale":{"paddingOuter":0.3}},"y":{"field":"v","type":"quantitative"}}},
  {"data":{"name":"F_br"},"mark":{"type":"rule","color":"#000","strokeWidth":1},"encoding":{"x":{"field":"from","type":"nominal","axis":null},"x2":{"field":"to"},"y":{"field":"y","type":"quantitative"}}},
  {"data":{"name":"F_br"},"mark":{"type":"text","fontSize":7,"dy":-2,"baseline":"alphabetic"},"encoding":{"x":{"field":"at","type":"nominal","axis":null},"y":{"field":"y","type":"quantitative"},"text":{"field":"lab"}}}
 ]},
 {"width":147,"height":103,"title":{"text":"G","dx":-48},"resolve":{"axis":{"x":"independent"}},"layer":[
  {"data":{"name":"G_bar"},"mark":{"type":"bar"},"encoding":{"x":{"field":"key","type":"nominal","scale":{"domain":["c-di-AMP|4 h","c-di-AMP|8 h","g1","c-di-GMP|4 h","c-di-GMP|8 h","g2","2'3'- cGAMP|4 h","2'3'- cGAMP|8 h","g3","3'3'-cGAMP|4 h","3'3'-cGAMP|8 h"],"range":[0,145],"paddingInner":0.02,"paddingOuter":0.46},"axis":{"values":["c-di-AMP|4 h","c-di-GMP|4 h","2'3'- cGAMP|4 h","3'3'-cGAMP|4 h"],"bandPosition":1,"labelExpr":"split(datum.value,'|')[0]","labelAngle":-45,"labelFontWeight":"bold","title":null}},"y":{"field":"v","type":"quantitative","scale":{"domain":[0,150],"range":[103,22.8],"nice":false},"axis":{"values":[0,50,100,150],"tickCount":20,"labelOverlap":false,"title":["Fold induction of IFNB1/GAPDH mRNA","(Relative to unstimulated control)"]}},"color":{"field":"ser","type":"nominal","scale":{"domain":["4 h","8 h"],"range":["#C8B98F","#EE7D2F"]},"legend":{"orient":"none","legendX":5,"legendY":13,"title":null,"symbolSize":36,"rowPadding":0,"labelFontSize":6.5}}}},
  {"data":{"name":"G_bar"},"mark":{"type":"rule","color":"#000","strokeWidth":0.8},"encoding":{"x":{"field":"key","type":"nominal","axis":null},"y":{"field":"v","type":"quantitative"},"y2":{"field":"hi"}}},
  {"data":{"name":"G_bar"},"mark":{"type":"tick","color":"#000","thickness":0.8,"size":5},"encoding":{"x":{"field":"key","type":"nominal","axis":null},"y":{"field":"hi","type":"quantitative"}}},
  {"data":{"name":"G_pts"},"mark":{"type":"circle","fill":"#fff","stroke":"#000","strokeWidth":0.8,"size":22,"opacity":1},"encoding":{"x":{"field":"key","type":"nominal","axis":{"orient":"top","title":"Human monocytes","labels":false,"ticks":false,"domain":false,"titlePadding":33}},"xOffset":{"field":"rep","type":"nominal","scale":{"paddingOuter":0.3}},"y":{"field":"v","type":"quantitative"}}}
 ]},
 {"width":152,"height":103,"title":{"text":"H","dx":-37},"resolve":{"axis":{"x":"independent"}},"layer":[
  {"data":{"name":"H_bar"},"mark":{"type":"bar"},"encoding":{"x":{"field":"key","type":"nominal","scale":{"domain":["NT|4 h","NT|24 h","g1","c-di-AMP|4 h","c-di-AMP|24 h","g2","c-di-GMP|4 h","c-di-GMP|24 h","g3","2'3'- cGAMP|4 h","2'3'- cGAMP|24 h","g4","3'3'-cGAMP|4 h","3'3'-cGAMP|24 h"],"range":[0,152],"paddingInner":0.02,"paddingOuter":0.3},"axis":{"values":["NT|4 h","c-di-AMP|4 h","c-di-GMP|4 h","2'3'- cGAMP|4 h","3'3'-cGAMP|4 h"],"bandPosition":1,"labelExpr":"split(datum.value,'|')[0]","labelAngle":-45,"labelFontWeight":"bold","title":null}},"y":{"field":"v","type":"quantitative","scale":{"domain":[0,1200],"range":[103,22.8],"nice":false},"axis":{"values":[0,300,600,900,1200],"tickCount":20,"labelOverlap":false,"title":"IFNβ (pg/ml)"}},"color":{"field":"ser","type":"nominal","scale":{"domain":["4 h","24 h"],"range":["#C8B98F","#EE7D2F"]},"legend":{"orient":"none","legendX":7,"legendY":13,"title":null,"symbolSize":36,"rowPadding":0,"labelFontSize":6.5}}}},
  {"data":{"name":"H_bar"},"mark":{"type":"rule","color":"#000","strokeWidth":0.8},"encoding":{"x":{"field":"key","type":"nominal","axis":null},"y":{"field":"v","type":"quantitative"},"y2":{"field":"hi"}}},
  {"data":{"name":"H_bar"},"mark":{"type":"tick","color":"#000","thickness":0.8,"size":5},"encoding":{"x":{"field":"key","type":"nominal","axis":null},"y":{"field":"hi","type":"quantitative"}}},
  {"data":{"name":"H_pts"},"mark":{"type":"circle","fill":"#fff","stroke":"#000","strokeWidth":0.8,"size":22,"opacity":1},"encoding":{"x":{"field":"key","type":"nominal","axis":{"orient":"top","title":"Human monocytes","labels":false,"ticks":false,"domain":false,"titlePadding":33}},"xOffset":{"field":"rep","type":"nominal","scale":{"paddingOuter":0.3}},"y":{"field":"v","type":"quantitative"}}}
 ]}
],"spacing":43,"bounds":"flush","resolve":{"scale":{"color":"independent","xOffset":"independent"},"legend":{"color":"independent"}}}
]
}
